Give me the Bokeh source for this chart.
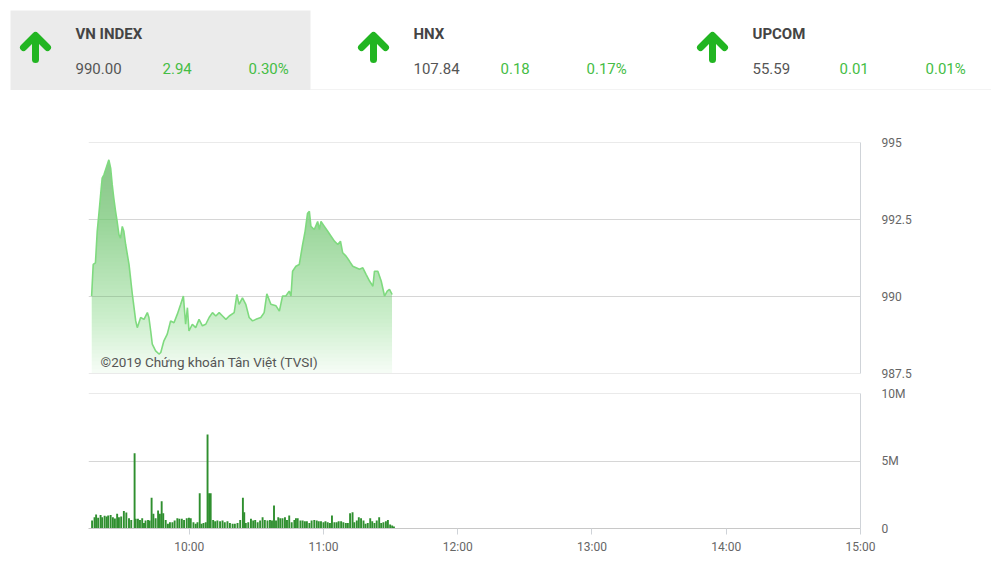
import numpy as np
from bokeh.plotting import figure
from bokeh.layouts import column
from bokeh.models import Range1d, FixedTicker, Label
from bokeh.core.properties import value
from bokeh.embed import file_html
from bokeh.resources import INLINE

FONT = "Roboto"

# ---------------- data ----------------
index_names = ["VN INDEX", "HNX", "UPCOM"]
index_values = [990.00, 107.84, 55.59]
index_changes = [2.94, 0.18, 0.01]
index_pcts = [0.30, 0.17, 0.01]

# minutes after 09:00
price_minutes = [16.4, 17.1, 18.1, 18.9, 19.6, 21.1, 21.9, 22.6, 24.1, 24.9,
                 25.6, 26.3, 27.1, 27.8, 28.6, 29.3, 30.1, 30.8, 31.6, 33.1,
                 34.6, 36.1, 36.8, 38.3, 39.8, 41.3, 42.0, 42.8, 43.5, 45.0,
                 46.5, 47.3, 48.7, 50.2, 51.7, 53.2, 54.7, 56.2, 57.4, 58.4,
                 59.2, 59.9, 61.4, 62.9, 64.4, 65.9, 67.4, 68.9, 70.4, 71.9,
                 73.4, 74.9, 76.4, 77.9, 80.1, 81.3, 82.3, 83.8, 85.3, 86.8,
                 88.3, 89.8, 92.0, 93.5, 94.7, 96.5, 98.8, 100.3, 101.7, 103.2,
                 104.7, 105.5, 106.2, 107.7, 109.2, 110.7, 111.8, 112.9, 113.7, 114.4,
                 115.9, 117.4, 118.2, 118.9, 120.4, 121.9, 123.4, 124.9, 126.4, 127.6,
                 128.6, 130.1, 131.6, 133.1, 134.6, 136.1, 137.6, 139.1, 140.6, 142.1,
                 142.8, 144.3, 145.8, 147.3, 148.5, 149.5, 150.7]
price_values = [990.01, 991.04, 991.09, 992.12, 992.66, 993.85, 993.96, 994.12, 994.45, 994.18,
                993.64, 993.20, 992.77, 992.44, 992.01, 991.90, 992.28, 992.12, 991.69, 991.04,
                990.06, 989.20, 988.98, 989.31, 989.25, 989.47, 989.31, 988.87, 988.44, 988.22,
                988.12, 988.17, 988.55, 988.77, 989.20, 989.14, 989.42, 989.74, 990.01, 989.09,
                989.63, 988.87, 989.09, 988.98, 989.25, 989.04, 989.09, 989.31, 989.47, 989.36,
                989.47, 989.36, 989.25, 989.36, 989.47, 990.06, 989.74, 989.95, 989.74, 989.31,
                989.20, 989.25, 989.31, 989.47, 990.08, 989.74, 989.69, 989.52, 990.01, 990.01,
                990.17, 990.01, 990.82, 990.98, 991.04, 991.69, 992.12, 992.71, 992.77, 992.28,
                992.18, 992.44, 992.18, 992.44, 992.28, 992.12, 991.96, 991.80, 991.69, 991.80,
                991.42, 991.31, 991.15, 990.98, 990.93, 990.88, 990.93, 990.71, 990.50, 990.33,
                990.82, 990.82, 990.50, 990.01, 990.17, 990.23, 990.06]

vol_minutes = [16.6, 17.7, 18.4, 19.3, 20.4, 21.1, 22.2, 23.1, 23.8, 24.9,
               25.9, 26.8, 27.8, 28.6, 29.6, 30.8, 31.9, 33.1, 34.1, 35.6,
               36.1, 37.1, 38.0, 39.0, 39.8, 40.5, 41.6, 42.3, 43.2, 44.0,
               45.0, 46.1, 46.9, 47.7, 48.4, 49.5, 50.5, 51.4, 52.5, 53.5,
               54.7, 55.6, 56.7, 57.7, 58.9, 59.9, 60.7, 61.9, 62.9, 63.7,
               64.7, 65.5, 66.4, 67.4, 68.2, 68.9, 69.6, 70.7, 71.6, 72.6,
               73.8, 74.9, 75.9, 77.1, 78.2, 79.4, 80.4, 81.6, 82.8, 84.0,
               84.6, 85.3, 86.4, 87.6, 88.6, 89.5, 90.6, 91.7, 92.8, 93.8,
               95.0, 96.1, 97.0, 97.9, 98.8, 99.8, 100.7, 101.7, 102.8, 103.7,
               104.7, 105.8, 107.0, 107.7, 108.5, 109.7, 110.7, 111.7, 112.6, 113.7,
               114.7, 115.9, 117.0, 117.9, 118.9, 120.0, 120.9, 121.9, 122.9, 123.8,
               124.9, 125.9, 126.8, 127.9, 128.9, 130.0, 130.9, 131.9, 133.0, 133.8,
               134.9, 135.8, 136.8, 137.9, 138.8, 139.8, 140.9, 141.8, 142.8, 143.8,
               144.9, 145.8, 146.8, 147.9, 148.8, 149.8, 150.7, 151.5]
vol_millions = [0.59, 0.84, 1.04, 0.79, 1.01, 0.84, 0.94, 0.89, 0.97, 1.01,
                0.84, 0.74, 1.09, 0.84, 0.89, 1.29, 1.19, 0.77, 0.64, 5.59,
                0.72, 0.72, 0.64, 0.77, 0.40, 0.59, 0.64, 0.59, 2.28, 1.09,
                0.77, 1.34, 1.09, 2.03, 1.14, 0.64, 0.35, 0.47, 0.47, 0.59,
                0.77, 0.72, 0.72, 0.64, 0.77, 0.79, 0.77, 0.47, 0.35, 0.47,
                2.62, 0.35, 0.40, 0.47, 6.98, 2.62, 2.62, 0.64, 0.54, 0.59,
                0.54, 0.59, 0.47, 0.54, 0.40, 0.35, 0.35, 0.40, 0.64, 2.28,
                1.21, 0.40, 0.47, 0.72, 0.59, 0.64, 0.47, 0.59, 0.84, 0.64,
                0.59, 0.64, 0.59, 1.71, 0.59, 0.84, 0.77, 0.77, 0.84, 0.64,
                0.97, 0.47, 0.64, 0.77, 0.77, 0.59, 0.59, 0.54, 0.54, 0.40,
                0.59, 0.64, 0.59, 0.54, 0.54, 0.47, 0.54, 0.47, 0.40, 0.97,
                0.47, 0.47, 0.54, 0.54, 0.47, 0.40, 0.40, 1.14, 1.21, 0.47,
                0.59, 0.84, 0.77, 0.59, 0.35, 0.40, 0.77, 0.54, 0.40, 0.59,
                0.84, 0.40, 0.47, 0.54, 0.64, 0.30, 0.22, 0.15]

time_ticks = [60, 120, 180, 240, 300, 360]
time_labels = ["10:00", "11:00", "12:00", "13:00", "14:00", "15:00"]
price_ticks = [987.5, 990, 992.5, 995]
price_tick_labels = ["987.5", "990", "992.5", "995"]
vol_ticks = [0, 5, 10]
vol_tick_labels = ["0", "5M", "10M"]

W = 1000
GREEN_TXT = "#45bd45"
GRID = "#d6d6d6"
BORDER = "#e6e6e6"

# ---------------- header ----------------
hdr = figure(width=W, height=90, x_range=Range1d(0, W), y_range=Range1d(90, 0),
             toolbar_location=None, output_backend="svg", min_border=0,
             x_axis_location=None, y_axis_location=None)
hdr.frame_align = False
hdr.grid.visible = False
hdr.outline_line_color = None
hdr.quad(left=10, right=310, top=10, bottom=90, fill_color="#ebebeb", line_color=None)
hdr.segment(x0=[310, 990.5], y0=[89.5, 89.5], x1=[990.5, 990.5], y1=[89.5, 90],
            line_color=BORDER, line_width=1)

name_x = [75, 413, 752]
for i, nx in enumerate(name_x):
    ax = nx - 40
    hdr.segment(x0=ax, y0=59, x1=ax, y1=36, line_color="#22b522", line_width=7, line_cap="round")
    hdr.line(x=[ax - 12, ax, ax + 12], y=[47, 35, 47], line_color="#22b522", line_width=7,
             line_cap="round", line_join="round")
    hdr.text(x=[nx], y=[33], text=[index_names[i]], text_font=value(FONT), text_font_size="15px",
             text_font_style="bold", text_color="#444444", text_baseline="middle")
    hdr.text(x=[nx], y=[68], text=[f"{index_values[i]:.2f}"], text_font=value(FONT),
             text_font_size="15px", text_color="#555555", text_baseline="middle")
    hdr.text(x=[nx + 87], y=[68], text=[f"{index_changes[i]:.2f}"], text_font=value(FONT),
             text_font_size="15px", text_color=GREEN_TXT, text_baseline="middle")
    hdr.text(x=[nx + 173], y=[68], text=[f"{index_pcts[i]:.2f}%"], text_font=value(FONT),
             text_font_size="15px", text_color=GREEN_TXT, text_baseline="middle")

# ---------------- price chart ----------------
xr = Range1d(15, 360)
pp = figure(width=W, height=293, x_range=xr, y_range=Range1d(987.485, 995.015),
            toolbar_location=None, output_backend="svg",
            x_axis_location=None, y_axis_location="right",
            min_border_left=88, min_border_right=140, min_border_top=52, min_border_bottom=10)
pp.frame_align = False
pp.outline_line_color = None
pp.xgrid.visible = False
pp.ygrid.ticker = FixedTicker(ticks=price_ticks)
pp.ygrid.grid_line_color = GRID
ya = pp.yaxis[0]
ya.ticker = FixedTicker(ticks=price_ticks)
ya.major_label_overrides = dict(zip(price_ticks, price_tick_labels))
ya.major_tick_line_color = None
ya.minor_tick_line_color = None
ya.axis_line_color = "#cfd3d8"
ya.major_label_standoff = 15
ya.major_label_text_font = FONT
ya.major_label_text_font_size = "12px"
ya.major_label_text_color = "#666666"

px = np.array(price_minutes)
py = np.array(price_values)
base = 987.5
FILL = "#6edc6e"
pp.varea(x=px, y1=base, y2=py, fill_color=FILL, fill_alpha=0.05)
for lvl in np.arange(base, 994.6, 0.125):
    pp.varea(x=px, y1=lvl, y2=np.maximum(py, lvl), fill_color=FILL, fill_alpha=0.019)
pp.line(px, py, line_color="#7fda7f", line_width=1.6)

pp.add_layout(Label(x=20.4, y=987.86, text="©2019 Chứng khoán Tân Việt (TVSI)",
                    text_font=FONT, text_font_size="13.5px", text_color="#555555",
                    text_baseline="middle"))

# ---------------- volume chart ----------------
vp = figure(width=W, height=182, x_range=xr, y_range=Range1d(0, 10.02),
            toolbar_location=None, output_backend="svg", y_axis_location="right",
            min_border_left=88, min_border_right=140, min_border_top=10, min_border_bottom=37)
vp.frame_align = False
vp.outline_line_color = None
vp.xgrid.visible = False
vp.ygrid.ticker = FixedTicker(ticks=vol_ticks)
vp.ygrid.grid_line_color = GRID
va = vp.yaxis[0]
va.ticker = FixedTicker(ticks=vol_ticks)
va.major_label_overrides = dict(zip(vol_ticks, vol_tick_labels))
va.major_tick_line_color = None
va.minor_tick_line_color = None
va.axis_line_color = "#cfd3d8"
va.major_label_standoff = 15
va.major_label_text_font = FONT
va.major_label_text_font_size = "12px"
va.major_label_text_color = "#666666"
xa = vp.xaxis[0]
xa.ticker = FixedTicker(ticks=time_ticks)
xa.major_label_overrides = dict(zip(time_ticks, time_labels))
xa.major_tick_in = 0
xa.major_tick_out = 6
xa.major_tick_line_color = "#cfd3d8"
xa.minor_tick_line_color = None
xa.axis_line_color = "#c8c8c8"
xa.major_label_standoff = 5
xa.major_label_text_font = FONT
xa.major_label_text_font_size = "12px"
xa.major_label_text_color = "#666666"

vp.vbar(x=vol_minutes, top=vol_millions, width=0.85, fill_color="#2f8f2f", line_color=None)

layout = column(hdr, pp, vp, spacing=0)
open("out.html", "w").write(file_html(layout, INLINE))
